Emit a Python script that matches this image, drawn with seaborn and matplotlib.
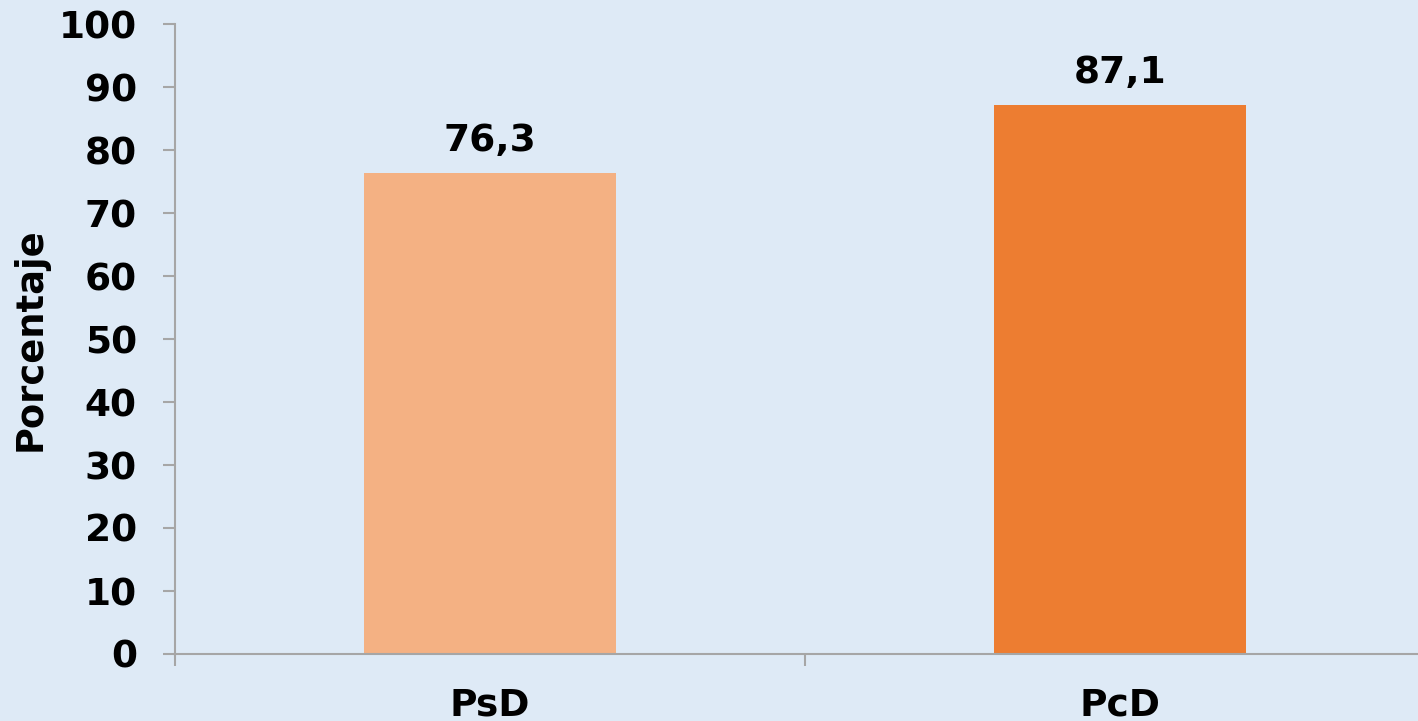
import matplotlib

matplotlib.use("Agg")
import matplotlib.pyplot as plt
import pandas as pd
import seaborn as sns

categories = ["PsD", "PcD"]
values = [76.3, 87.1]
value_labels = ["76,3", "87,1"]
bar_colors = ["#F4B183", "#ED7D31"]

BG = "#DEEAF6"
SPINE = "#A6A6A6"

sns.set_theme(style="white")
plt.rcParams.update(
    {
        "font.family": ["DejaVu Sans"],
        "font.weight": "bold",
        "figure.facecolor": BG,
        "axes.facecolor": BG,
        "text.color": "black",
        "axes.labelcolor": "black",
        "xtick.color": "black",
        "ytick.color": "black",
    }
)

df = pd.DataFrame({"grupo": categories, "pct": values})

fig = plt.figure(figsize=(14.18, 7.21), dpi=100)
ax = fig.add_axes([175 / 1418, 67 / 721, 1 - 175 / 1418, 630 / 721])

sns.barplot(data=df, x="grupo", y="pct", hue="grupo", palette=bar_colors,
            width=0.4, legend=False, ax=ax, saturation=1, linewidth=0)

for i, (v, lab) in enumerate(zip(values, value_labels)):
    ax.text(i, v + 2.3, lab, ha="center", va="bottom", fontsize=27,
            fontweight="bold", color="black")

ax.set_ylim(0, 100)
ax.set_yticks(range(0, 101, 10))
ax.set_xlim(-0.5, (1418 - 175) / 630 - 0.5)
ax.set_xticks([0, 1])
ax.set_xticklabels(categories)
ax.set_xlabel("")
ax.set_ylabel("Porcentaje", fontsize=26.5, fontweight="bold", labelpad=7.5)

for side in ["top", "right"]:
    ax.spines[side].set_visible(False)
for side in ["left", "bottom"]:
    ax.spines[side].set_color(SPINE)
    ax.spines[side].set_linewidth(1.5)

ax.tick_params(axis="y", labelsize=27, length=8.5, width=1.5, color=SPINE,
               labelcolor="black", direction="out", left=True, pad=19)
ax.tick_params(axis="x", labelsize=27, bottom=False, pad=18, labelcolor="black")
# category boundary ticks like the original
ax.set_xticks([-0.5, 0.5], minor=True)
ax.tick_params(axis="x", which="minor", length=8.5, width=1.5, color=SPINE,
               direction="out", bottom=True)
for t in ax.get_yticklabels() + ax.get_xticklabels():
    t.set_fontweight("bold")

fig.savefig("out.png", dpi=100, facecolor=BG)
